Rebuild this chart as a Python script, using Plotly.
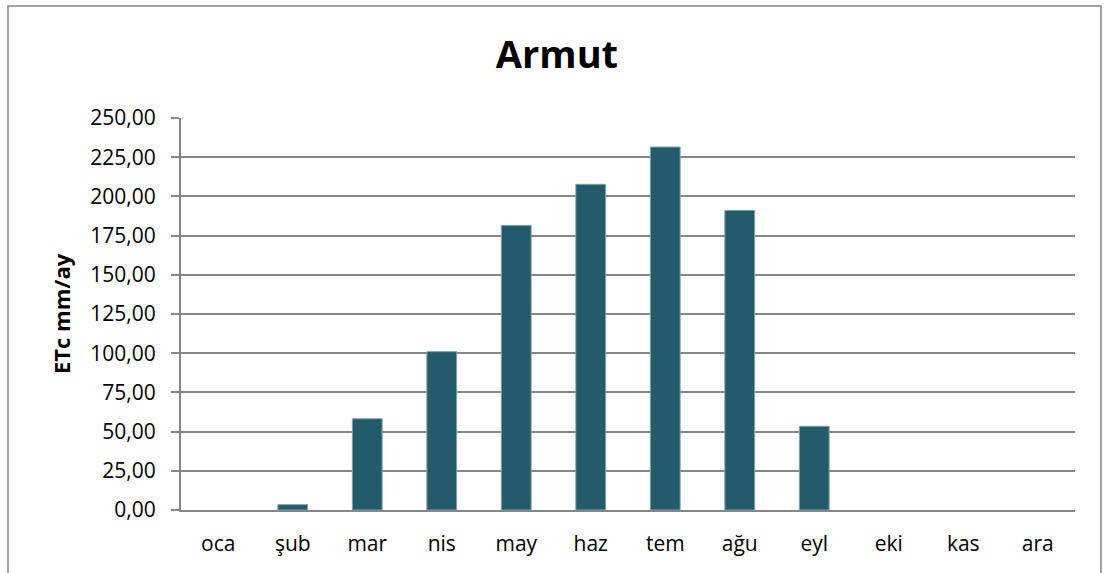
import plotly.graph_objects as go

months = ["oca", "şub", "mar", "nis", "may", "haz", "tem", "ağu", "eyl", "eki", "kas", "ara"]
etc_values = [0.0, 3.4, 58.2, 101.0, 181.5, 207.7, 231.5, 191.1, 53.4, 0.0, 0.0, 0.0]
y_ticks = [0, 25, 50, 75, 100, 125, 150, 175, 200, 225, 250]

W, H = 1105, 573
L, R, T, B = 181, 1075, 118, 510
pw, ph = R - L, B - T
FONT = "Open Sans, Liberation Sans, sans-serif"

def px_x(p):
    return (p - L) / pw

def px_y(p):
    return (B - p) / ph

fig = go.Figure()
fig.add_trace(go.Bar(
    x=months, y=etc_values,
    marker=dict(color="#235B6A",
                line=dict(color="#7FA3AD", width=[1 if v > 0 else 0 for v in etc_values])),
    width=0.4,
))

fig.update_layout(
    width=W, height=H,
    margin=dict(l=L, r=W - R, t=T, b=H - B, autoexpand=False),
    paper_bgcolor="white", plot_bgcolor="white",
    separators=", ",
    showlegend=False,
    font=dict(family=FONT, color="black", size=21),
    title=dict(text="<b>Armut</b>", x=px_x(557), xanchor="center", xref="paper",
               y=1 - 55 / H, yanchor="middle",
               font=dict(size=38, family=FONT)),
    xaxis=dict(
        showgrid=False, showline=True, linecolor="#868686", linewidth=2,
        ticks="", tickfont=dict(size=21), range=[-0.5, 11.5], automargin=False,
        ticklabelstandoff=14,
    ),
    yaxis=dict(
        range=[0, 250], tickvals=y_ticks, tickformat=".2f",
        showgrid=True, gridcolor="#868686", gridwidth=2,
        showline=True, linecolor="#868686", linewidth=2,
        ticks="outside", ticklen=8, tickcolor="#868686", tickwidth=2,
        tickfont=dict(size=21), zeroline=False, automargin=False,
        ticklabelstandoff=11,
    ),
    annotations=[dict(text="<b>ETc mm/ay</b>", xref="paper", yref="paper",
                      x=px_x(61), y=0.5, xanchor="center", yanchor="middle",
                      textangle=-90, showarrow=False,
                      font=dict(size=22, family=FONT, color="black"))],
    shapes=[dict(type="rect", xref="paper", yref="paper",
                 x0=px_x(8), x1=px_x(1101), y0=px_y(590), y1=px_y(6),
                 line=dict(color="#868686", width=1.5), fillcolor="rgba(0,0,0,0)")],
)

fig.write_html("out.html", config={"displayModeBar": False},
               post_script="document.body.style.margin='0px';document.body.style.overflow='hidden';")
